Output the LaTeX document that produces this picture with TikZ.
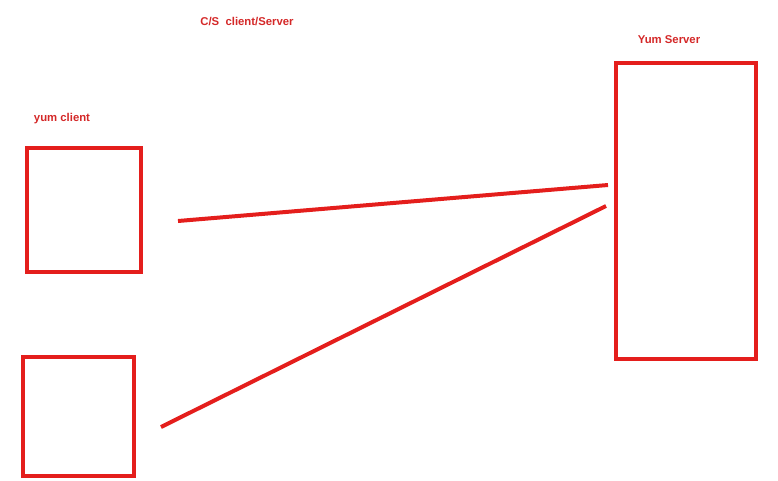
\documentclass[tikz,border=0pt]{standalone}
\usepackage{fontspec}
\setmainfont{Liberation Sans}
\usepackage{tikz}
\usepackage{xcolor}
\definecolor{linered}{RGB}{228,30,28}
\definecolor{textred}{RGB}{212,40,40}

\begin{document}
\begin{tikzpicture}[x=0.75pt, y=-0.75pt]
\useasboundingbox (0,0) rectangle (778,480);
\tikzset{
    machine/.style = {draw=linered, line width=3pt, inner sep=0pt},
    wire/.style = {draw=linered, line width=3pt},
    tag/.style = {text=textred, font=\fontsize{8.5}{10}\selectfont\bfseries}
}
    \node[tag] (title) at (247, 22) {C/S\ \ client/Server};

    % clients
    \node[tag] (clientlabel) at (62, 119) {yum client};
    \node[machine, minimum width=85.5pt, minimum height=93pt] (clienta) at (84, 210) {};
    \node[machine, minimum width=83.25pt, minimum height=89.25pt] (clientb) at (78.5, 416.5) {};

    % server
    \node[tag] (serverlabel) at (669, 40) {Yum Server};
    \node[machine, minimum width=105pt, minimum height=222pt] (server) at (686, 211) {};

    % links
    \coordinate (linkastart) at (178, 221);
    \coordinate (linkaend) at (608, 185);
    \coordinate (linkbstart) at (161, 427);
    \coordinate (linkbend) at (606, 206);
    \draw[wire] (linkastart) -- (linkaend);
    \draw[wire] (linkbstart) -- (linkbend);
\end{tikzpicture}
\end{document}
